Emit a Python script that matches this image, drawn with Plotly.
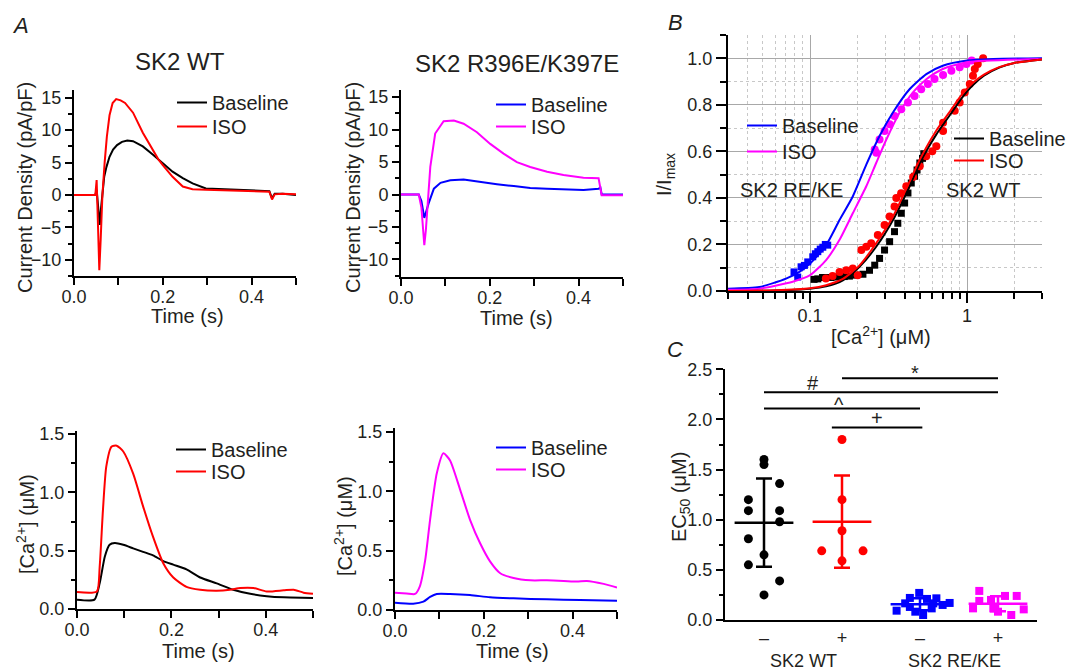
import plotly.graph_objects as go

FONT = "Liberation Sans, Arial, Helvetica, sans-serif"
TXT = "#231f20"
BLK, RED, BLUE, MAG = "#000000", "#ff0000", "#0000ff", "#ff00ff"
W, H = 1069, 670

# ---------------- Panel A, top row: current density (pA/pF) ----------------
wt_cur_base_t = [0, 0.048, 0.051, 0.055, 0.058, 0.061, 0.064, 0.068, 0.073, 0.080, 0.088, 0.097,
                 0.108, 0.120, 0.133, 0.155, 0.178, 0.190, 0.200, 0.222, 0.245, 0.267, 0.297,
                 0.357, 0.440, 0.446, 0.452, 0.470, 0.500]
wt_cur_base = [0, 0, 0.8, -3.0, -4.6, -2.0, 0.5, 2.8, 4.3, 5.9, 7.0, 7.7,
               8.2, 8.4, 8.3, 7.5, 6.2, 5.5, 4.9, 3.6, 2.6, 1.8, 1.0,
               0.8, 0.6, -0.5, 0.2, 0.2, 0.0]
wt_cur_iso_t = [0, 0.048, 0.051, 0.054, 0.057, 0.060, 0.064, 0.069, 0.074, 0.080, 0.087, 0.095,
                0.105, 0.115, 0.133, 0.155, 0.178, 0.190, 0.200, 0.222, 0.245, 0.267, 0.297,
                0.357, 0.440, 0.446, 0.452, 0.470, 0.500]
wt_cur_iso = [0, 0, 2.3, -4.0, -11.6, -7.0, 0.0, 5.0, 9.0, 12.3, 14.2, 14.8,
              14.6, 14.2, 12.7, 9.6, 6.8, 5.5, 4.6, 2.8, 1.3, 0.9, 0.8,
              0.7, 0.5, -0.7, 0.1, 0.2, 0.1]

mut_cur_base_t = [0, 0.040, 0.046, 0.0525, 0.062, 0.074, 0.089, 0.111, 0.141, 0.179, 0.216,
                  0.254, 0.291, 0.329, 0.366, 0.411, 0.445, 0.449, 0.452, 0.500]
mut_cur_base = [0, 0, -1.0, -3.6, -1.4, 0.9, 1.8, 2.2, 2.3, 1.9, 1.6,
                1.3, 1.0, 0.9, 0.8, 0.7, 0.9, 1.1, 0.0, 0.0]
mut_cur_iso_t = [0, 0.040, 0.046, 0.0525, 0.056, 0.060, 0.066, 0.077, 0.096, 0.119, 0.141, 0.171,
                 0.201, 0.231, 0.261, 0.291, 0.329, 0.366, 0.411, 0.445, 0.449, 0.452, 0.500]
mut_cur_iso = [0, 0, -2.0, -7.8, -5.5, -1.9, 4.25, 9.4, 11.3, 11.4, 10.9, 9.6,
               7.8, 6.3, 5.0, 4.25, 3.5, 3.0, 2.6, 2.5, 1.0, -0.1, -0.1]

# ---------------- Panel A, bottom row: [Ca2+] (uM) ----------------
wt_ca_base_t = [0, 0.037, 0.048, 0.059, 0.069, 0.080, 0.098, 0.119, 0.140, 0.161, 0.183, 0.204,
                0.232, 0.261, 0.296, 0.331, 0.367, 0.402, 0.438, 0.500]
wt_ca_base = [0.08, 0.08, 0.22, 0.45, 0.55, 0.565, 0.55, 0.52, 0.49, 0.46, 0.41, 0.38,
              0.34, 0.27, 0.22, 0.165, 0.13, 0.11, 0.10, 0.095]
wt_ca_iso_t = [0, 0.042, 0.048, 0.055, 0.062, 0.073, 0.084, 0.098, 0.119, 0.140, 0.161, 0.183,
               0.204, 0.232, 0.261, 0.296, 0.324, 0.346, 0.374, 0.402, 0.438, 0.459, 0.480, 0.500]
wt_ca_iso = [0.145, 0.15, 0.36, 0.85, 1.22, 1.39, 1.40, 1.35, 1.16, 0.88, 0.62, 0.39,
             0.27, 0.19, 0.165, 0.157, 0.165, 0.18, 0.18, 0.15, 0.16, 0.165, 0.14, 0.13]

mut_ca_base_t = [0, 0.041, 0.064, 0.079, 0.094, 0.124, 0.169, 0.214, 0.267, 0.342, 0.417, 0.500]
mut_ca_base = [0.062, 0.053, 0.07, 0.11, 0.135, 0.135, 0.126, 0.107, 0.098, 0.09, 0.084, 0.078]
mut_ca_iso_t = [0, 0.026, 0.045, 0.056, 0.068, 0.079, 0.094, 0.109, 0.124, 0.147, 0.169, 0.192,
                0.214, 0.237, 0.267, 0.305, 0.342, 0.380, 0.410, 0.432, 0.470, 0.500]
mut_ca_iso = [0.146, 0.14, 0.135, 0.2, 0.42, 0.76, 1.15, 1.32, 1.26, 1.01, 0.76, 0.56,
              0.41, 0.31, 0.27, 0.25, 0.25, 0.245, 0.24, 0.245, 0.22, 0.19]

# ---------------- Panel B: I/Imax vs [Ca2+] ----------------
wt_base_ca = [0.106, 0.112, 0.12, 0.128, 0.136, 0.15, 0.165, 0.178, 0.195, 0.217, 0.239, 0.258,
              0.277, 0.298, 0.321, 0.345, 0.362, 0.381, 0.40, 0.42, 0.441, 0.463, 0.48, 0.50, 0.52, 0.53]
wt_base_i = [0.05, 0.052, 0.058, 0.058, 0.058, 0.06, 0.062, 0.064, 0.068, 0.072, 0.089, 0.111,
             0.14, 0.176, 0.212, 0.255, 0.291, 0.334, 0.378, 0.421, 0.464, 0.493, 0.52, 0.55, 0.57, 0.59]
wt_iso_ca = [0.126, 0.139, 0.154, 0.17, 0.187, 0.201, 0.212, 0.228, 0.245, 0.27, 0.298, 0.321,
             0.345, 0.354, 0.38, 0.41, 0.453, 0.499, 0.549, 0.60, 0.637, 0.703, 0.703, 0.834,
             0.897, 0.966, 1.04, 1.09, 1.12, 1.17, 1.265]
wt_iso_i = [0.054, 0.064, 0.082, 0.089, 0.097, 0.068, 0.176, 0.19, 0.205, 0.241, 0.284, 0.32,
            0.363, 0.40, 0.42, 0.45, 0.49, 0.536, 0.579, 0.60, 0.622, 0.687, 0.723, 0.774,
            0.81, 0.853, 0.889, 0.925, 0.954, 0.975, 1.0]
mut_base_ca = [0.079, 0.0834, 0.0876, 0.092, 0.0966, 0.104, 0.108, 0.112, 0.116, 0.1205, 0.125, 0.1295]
mut_base_i = [0.082, 0.06, 0.104, 0.11, 0.125, 0.147, 0.16, 0.169, 0.18, 0.188, 0.2, 0.197]
mut_iso_ca = [0.258, 0.264, 0.277, 0.298, 0.321, 0.345, 0.381, 0.42, 0.463, 0.51, 0.563, 0.62,
              0.703, 0.794, 0.897, 0.99, 1.07]
mut_iso_i = [0.608, 0.594, 0.651, 0.687, 0.716, 0.752, 0.781, 0.81, 0.838, 0.867, 0.889, 0.911,
             0.928, 0.946, 0.961, 0.975, 0.99]

# fitted curves
fit_wt_base_x = [0.03, 0.06, 0.1, 0.1265, 0.1617, 0.2064, 0.2635, 0.3373, 0.4303, 0.5, 0.637,
                 0.775, 0.94, 1.09, 1.28, 1.6, 2.0, 3.0]
fit_wt_base_y = [0.0, 0.002, 0.01, 0.02, 0.046, 0.104, 0.19, 0.305, 0.45, 0.55, 0.673,
                 0.755, 0.835, 0.885, 0.925, 0.96, 0.98, 0.995]
fit_wt_iso_x = [0.03, 0.06, 0.1, 0.1265, 0.1617, 0.2064, 0.2635, 0.3373, 0.4303, 0.5, 0.637,
                0.775, 0.94, 1.09, 1.28, 1.6, 2.0, 3.0]
fit_wt_iso_y = [0.0, 0.003, 0.012, 0.025, 0.052, 0.11, 0.205, 0.32, 0.47, 0.565, 0.69,
                0.77, 0.85, 0.895, 0.93, 0.962, 0.98, 0.995]
fit_mut_base_x = [0.03, 0.0475, 0.0703, 0.0855, 0.1, 0.1265, 0.154, 0.187, 0.228, 0.277, 0.337,
                  0.43, 0.55, 0.70, 1.0, 1.47, 3.0]
fit_mut_base_y = [0.01, 0.017, 0.053, 0.082, 0.118, 0.197, 0.305, 0.406, 0.543, 0.666, 0.767,
                  0.867, 0.932, 0.968, 0.99, 0.997, 1.0]
fit_mut_iso_x = [0.03, 0.0475, 0.0775, 0.1, 0.1265, 0.154, 0.187, 0.228, 0.2635, 0.3055, 0.3718,
                 0.4519, 0.55, 0.70, 1.0, 3.0]
fit_mut_iso_y = [0.005, 0.01, 0.04, 0.068, 0.133, 0.22, 0.334, 0.45, 0.55, 0.65, 0.767,
                 0.853, 0.91, 0.954, 0.983, 0.997]

# ---------------- Panel C: EC50 (uM) ----------------
group_pos = [1, 2, 3, 4]
group_ticks = ["\u2013", "+", "\u2013", "+"]
ec50_wt_base = [1.60, 1.55, 1.20, 1.09, 1.36, 1.09, 0.98, 0.81, 0.65, 0.55, 0.39, 0.25]
ec50_wt_iso = [1.80, 1.20, 0.89, 0.69, 0.69, 0.59]
ec50_mut_base = [0.093, 0.166, 0.22, 0.13, 0.083, 0.27, 0.05, 0.21, 0.116, 0.166, 0.216, 0.15, 0.17]
ec50_mut_iso = [0.116, 0.29, 0.19, 0.2, 0.116, 0.083, 0.24, 0.05, 0.24, 0.106]
ec50_mean = [0.97, 0.98, 0.157, 0.163]
ec50_sd = [0.44, 0.46, 0.06, 0.075]
sig_from = [2, 1, 1, 1.87]
sig_to = [4, 4, 3, 3.03]
sig_level = [2.41, 2.27, 2.11, 1.92]
sig_label = ["*", "#", "^", "+"]
sig_label_x = [2.94, 1.63, 1.96, 2.45]
sig_label_y = [2.46, 2.36, 2.14, 2.01]

# jitter of the dots in panel C (layout only)
jit_wt_base = [0, 0, -0.2, -0.2, 0.2, 0.2, 0.2, -0.2, 0, -0.2, 0.2, 0]
jit_wt_iso = [0, 0, 0, -0.26, 0.27, 0]
jit_mut_base = [-0.30, -0.19, -0.13, -0.13, -0.06, -0.01, 0.04, 0.09, 0.15, 0.17, 0.21, 0.29, 0.38]
jit_mut_iso = [-0.32, -0.24, -0.24, -0.09, -0.06, 0.0, 0.09, 0.17, 0.24, 0.33]

fig = go.Figure()

# one legend per entry so each entry sits where the reference puts it: (left px, top px)
legend_boxes = {
    "legend": (172, 83), "legend2": (172, 107),
    "legend3": (491, 85), "legend4": (491, 107),
    "legend5": (171, 430), "legend6": (171, 452),
    "legend7": (491, 428), "legend8": (491, 450),
    "legend9": (742, 106), "legend10": (742, 132),
    "legend11": (949, 119), "legend12": (949, 141),
}


def line(x, y, color, name, xa, ya, legend, shape="linear"):
    fig.add_trace(go.Scatter(x=x, y=y, mode="lines", name=name,
                             line=dict(color=color, width=2, shape=shape, smoothing=0.6),
                             xaxis=xa, yaxis=ya, legend=legend, showlegend=True))


line(wt_cur_base_t, wt_cur_base, BLK, "Baseline", "x", "y", "legend")
line(wt_cur_iso_t, wt_cur_iso, RED, "ISO", "x", "y", "legend2")
line(mut_cur_base_t, mut_cur_base, BLUE, "Baseline", "x2", "y2", "legend3")
line(mut_cur_iso_t, mut_cur_iso, MAG, "ISO", "x2", "y2", "legend4")
line(wt_ca_base_t, wt_ca_base, BLK, "Baseline", "x3", "y3", "legend5", shape="spline")
line(wt_ca_iso_t, wt_ca_iso, RED, "ISO", "x3", "y3", "legend6", shape="spline")
line(mut_ca_base_t, mut_ca_base, BLUE, "Baseline", "x4", "y4", "legend7", shape="spline")
line(mut_ca_iso_t, mut_ca_iso, MAG, "ISO", "x4", "y4", "legend8", shape="spline")

# Panel B points
for xs, ys, col, sym, sz in [(mut_base_ca, mut_base_i, BLUE, "square", 7),
                             (mut_iso_ca, mut_iso_i, MAG, "circle", 8),
                             (wt_base_ca, wt_base_i, BLK, "square", 7),
                             (wt_iso_ca, wt_iso_i, RED, "circle", 8)]:
    fig.add_trace(go.Scatter(x=xs, y=ys, mode="markers", xaxis="x5", yaxis="y5",
                             marker=dict(color=col, symbol=sym, size=sz, line=dict(width=0)),
                             showlegend=False))
line(fit_mut_base_x, fit_mut_base_y, BLUE, "Baseline", "x5", "y5", "legend9", shape="spline")
line(fit_mut_iso_x, fit_mut_iso_y, MAG, "ISO", "x5", "y5", "legend10", shape="spline")
line(fit_wt_base_x, fit_wt_base_y, BLK, "Baseline", "x5", "y5", "legend11", shape="spline")
line(fit_wt_iso_x, fit_wt_iso_y, RED, "ISO", "x5", "y5", "legend12", shape="spline")

# Panel C points
groups = [(ec50_wt_base, jit_wt_base, BLK, "circle", 9),
          (ec50_wt_iso, jit_wt_iso, RED, "circle", 9),
          (ec50_mut_base, jit_mut_base, BLUE, "square", 8),
          (ec50_mut_iso, jit_mut_iso, MAG, "square", 8)]
for gi, (vals, jit, col, sym, sz) in enumerate(groups):
    fig.add_trace(go.Scatter(x=[group_pos[gi] + j for j in jit], y=vals, mode="markers",
                             xaxis="x6", yaxis="y6", showlegend=False,
                             marker=dict(color=col, symbol=sym, size=sz, line=dict(width=0))))
    fig.add_trace(go.Scatter(x=[group_pos[gi]], y=[ec50_mean[gi]], mode="markers",
                             xaxis="x6", yaxis="y6", showlegend=False,
                             marker=dict(symbol="line-ew", size=42, color=col,
                                         line=dict(color=col, width=2.5)),
                             error_y=dict(type="data", array=[ec50_sd[gi]], visible=True,
                                          color=col, thickness=2.5, width=8)))

tickfont = dict(family=FONT, size=18, color=TXT)


def axis(dom, rng, anchor, **kw):
    d = dict(domain=dom, range=rng, anchor=anchor, showline=True, linecolor="black", linewidth=2,
             ticks="outside", ticklen=7, tickwidth=1.5, tickcolor="black", showgrid=False,
             zeroline=False, tickfont=tickfont, automargin=False)
    d.update(kw)
    return d


def px_x(a, b):
    return [a / W, b / W]


def px_y(top, bottom):
    return [1 - bottom / H, 1 - top / H]


time_x = dict(tickvals=[0, 0.2, 0.4], ticktext=["0.0", "0.2", "0.4"], ticklabelstandoff=-4,
              minor=dict(tickvals=[0.1, 0.3, 0.5], ticks="outside", ticklen=7, tickwidth=1.5,
                         tickcolor="black"))
cur_y = dict(dtick=5, tick0=0,
             minor=dict(dtick=2.5, tick0=0, ticks="outside", ticklen=4, tickwidth=1.5, tickcolor="black"))
ca_y = dict(dtick=0.5, tick0=0, tickformat=".1f",
            minor=dict(dtick=0.25, tick0=0, ticks="outside", ticklen=4, tickwidth=1.5, tickcolor="black"))

fig.update_layout(
    xaxis=axis(px_x(74, 296), [0, 0.5], "y", **time_x),
    yaxis=axis(px_y(90, 276), [-12.5, 16.2], "x", **cur_y),
    xaxis2=axis(px_x(401, 623), [0, 0.5], "y2", **time_x),
    yaxis2=axis(px_y(90, 277), [-12.7, 16.1], "x2", **cur_y),
    xaxis3=axis(px_x(77, 313), [0, 0.5], "y3", **time_x),
    yaxis3=axis(px_y(430.5, 609), [0, 1.53], "x3", **ca_y),
    xaxis4=axis(px_x(395, 617), [0, 0.5], "y4", **time_x),
    yaxis4=axis(px_y(428.4, 610), [0, 1.53], "x4", **ca_y),
    xaxis5=axis(px_x(728, 1042), [-1.5229, 0.4771], "y5", type="log", ticklen=10,
                ticklabelstandoff=-3,
                tickvals=[0.1, 1], ticktext=["0.1", "1"], showgrid=True, gridcolor="#a8a8a8",
                gridwidth=1,
                minor=dict(tickvals=[0.03, 0.04, 0.05, 0.06, 0.07, 0.08, 0.09, 0.2, 0.3, 0.4, 0.5,
                                     0.6, 0.7, 0.8, 0.9, 2, 3],
                           ticks="outside", ticklen=6, tickwidth=1.5, tickcolor="black",
                           showgrid=True, gridcolor="#c8c8c8", griddash="dot", gridwidth=1)),
    yaxis5=axis(px_y(35, 291), [0, 1.1], "x5", dtick=0.2, tick0=0, tickformat=".1f", ticklen=10,
                showgrid=True, gridcolor="#a8a8a8", gridwidth=1,
                minor=dict(dtick=0.1, tick0=0, ticks="outside", ticklen=6, tickwidth=1.5,
                           tickcolor="black", showgrid=True, gridcolor="#c8c8c8", griddash="dot")),
    xaxis6=axis(px_x(725, 1037), [0.5, 4.5], "y6", tickvals=group_pos, ticktext=group_ticks,
                ticks=""),
    yaxis6=axis(px_y(369.3, 620), [0, 2.5], "x6", dtick=0.5, tick0=0, tickformat=".1f",
                minor=dict(dtick=0.25, tick0=0, ticks="outside", ticklen=4, tickwidth=1.5,
                           tickcolor="black")),
)

leg = dict(font=dict(family=FONT, size=20, color=TXT), bgcolor="rgba(0,0,0,0)",
           xanchor="left", yanchor="top", itemwidth=30, borderwidth=0)
fig.update_layout({k: dict(leg, x=v[0] / W, y=1 - v[1] / H) for k, v in legend_boxes.items()})

# significance brackets
for x0, x1, lv, lab, lx, ly in zip(sig_from, sig_to, sig_level, sig_label, sig_label_x, sig_label_y):
    fig.add_shape(type="line", xref="x6", yref="y6", x0=x0, x1=x1, y0=lv, y1=lv,
                  line=dict(color="black", width=2))
    fig.add_annotation(x=lx, y=ly, xref="x6", yref="y6", text=lab, showarrow=False,
                       yanchor="middle", font=dict(family=FONT, size=20, color=TXT))

# text: (text, x px, y px, size, angle)
ann = [
    ("<i>A</i>", 20, 26, 22, 0), ("<i>B</i>", 675, 23, 22, 0), ("<i>C</i>", 675, 350, 22, 0),
    ("SK2 WT", 180, 62, 24, 0), ("SK2 R396E/K397E", 517, 64, 24, 0),
    ("SK2 RE/KE", 791, 190, 20, 0), ("SK2 WT", 983, 190, 20, 0),
    ("SK2 WT", 803, 661, 18, 0), ("SK2 RE/KE", 954, 661, 18, 0),
    # axis titles
    ("Current Density (pA/pF)", 25, 188, 20, -90), ("Time (s)", 187, 316, 20, 0),
    ("Current Density (pA/pF)", 353, 188, 20, -90), ("Time (s)", 516, 318, 20, 0),
    ("[Ca<sup>2+</sup>] (\u03bcM)", 25, 524, 20, -90), ("Time (s)", 198, 651, 20, 0),
    ("[Ca<sup>2+</sup>] (\u03bcM)", 343, 526, 20, -90), ("Time (s)", 512, 651, 20, 0),
    ("I/I<sub>max</sub>", 666, 175, 20, -90), ("[Ca<sup>2+</sup>] (\u03bcM)", 881, 335, 20, 0),
    ("EC<sub>50</sub> (\u03bcM)", 680, 497, 20, -90),
]
for t, x, y, s, ang in ann:
    fig.add_annotation(x=x / W, y=1 - y / H, xref="paper", yref="paper", text=t,
                       showarrow=False, xanchor="center", yanchor="middle", textangle=ang,
                       font=dict(family=FONT, size=s, color=TXT))

fig.update_layout(width=W, height=H, margin=dict(l=0, r=0, t=0, b=0, autoexpand=False),
                  paper_bgcolor="white", plot_bgcolor="white",
                  font=dict(family=FONT, color=TXT))
fig.write_html("out.html", config={"displayModeBar": False},
               post_script="document.body.style.margin='0px';document.body.style.overflow='hidden';")
